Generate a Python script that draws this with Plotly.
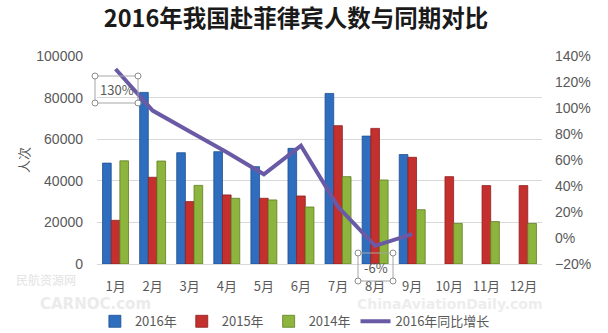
import plotly.graph_objects as go

months = ["1月", "2月", "3月", "4月", "5月", "6月", "7月", "8月", "9月", "10月", "11月", "12月"]
v2016 = [48500, 82500, 53500, 54000, 46800, 55600, 82000, 61500, 52600, None, None, None]
v2015 = [21000, 41700, 30000, 33200, 31600, 32700, 66500, 65200, 51300, 42000, 37700, 37700]
v2014 = [49600, 49500, 37800, 31600, 30800, 27400, 42000, 40400, 26100, 19500, 20400, 19500]
growth = [130, 98, 82, 66, 49, 71, 24, -6, 3]

FONT = "Noto Sans CJK SC"
GRAY = "#595959"

fig = go.Figure()
fig.add_trace(go.Bar(name="2016年", x=months, y=v2016, marker=dict(color="#2F6EBE", line=dict(color="#1F4F8F", width=0.8))))
fig.add_trace(go.Bar(name="2015年", x=months, y=v2015, marker=dict(color="#C3302E", line=dict(color="#8F1F1F", width=0.8))))
fig.add_trace(go.Bar(name="2014年", x=months, y=v2014, marker=dict(color="#8DB43C", line=dict(color="#5F7F25", width=0.8))))
fig.add_trace(go.Scatter(name="2016年同比增长", x=months[:len(growth)], y=growth, yaxis="y2",
                         mode="lines", line=dict(color="#6A5AA6", width=4)))


def px(x):
    return (x - 97) / 445


def py(y):
    return (264 - y) / 208


def box(xc, yc, text, w=43, h=27):
    x0, x1 = xc - w / 2, xc + w / 2
    y0, y1 = yc - h / 2, yc + h / 2
    fig.add_shape(type="rect", xref="paper", yref="paper", x0=px(x0), x1=px(x1), y0=py(y0), y1=py(y1),
                  line=dict(color="#A6A6A6", width=1), fillcolor="rgba(0,0,0,0)")
    for cx in (x0, x1):
        for cy in (y0, y1):
            fig.add_shape(type="circle", xref="paper", yref="paper",
                          x0=px(cx - 3), x1=px(cx + 3), y0=py(cy + 3), y1=py(cy - 3),
                          line=dict(color="#8C8C8C", width=1), fillcolor="white")
    fig.add_annotation(xref="paper", yref="paper", x=px(xc), y=py(yc), text=text, showarrow=False,
                       xanchor="center", yanchor="middle",
                       font=dict(family=FONT, size=13, color=GRAY))


box(116.5, 89.5, "130%")
box(375.5, 267, "-6%", w=35, h=28)

# watermarks
fig.add_annotation(xref="paper", yref="paper", x=px(46), y=py(279), text="民航资源网",
                   xanchor="center", yanchor="middle",
                   showarrow=False, font=dict(family=FONT, size=12, color="#E3E3E3"))
fig.add_annotation(xref="paper", yref="paper", x=px(95), y=py(304), text="<b>CARNOC.com</b>",
                   xanchor="center", yanchor="middle",
                   showarrow=False, font=dict(family="DejaVu Sans", size=15, color="#EBEBEB"))
fig.add_annotation(xref="paper", yref="paper", x=px(450), y=py(304), text="<b>ChinaAviationDaily.com</b>",
                   xanchor="center", yanchor="middle",
                   showarrow=False, font=dict(family="DejaVu Sans", size=14, color="#EDEDED"))

fig.update_layout(
    width=608, height=333,
    margin=dict(l=97, r=66, t=56, b=69),
    paper_bgcolor="white", plot_bgcolor="white",
    title=dict(text="<b>2016年我国赴菲律宾人数与同期对比</b>", x=0.487, xanchor="center", y=0.945, yanchor="middle",
               font=dict(family=FONT, size=23.5, color="#1a1a1a")),
    barmode="group", bargap=0.3, bargroupgap=0,
    font=dict(family=FONT, size=13, color=GRAY),
    xaxis=dict(showgrid=False, showline=True, linecolor="#D9D9D9", ticks="", ticklabelstandoff=10,
               tickfont=dict(family=FONT, size=13, color=GRAY)),
    yaxis=dict(range=[0, 100000], dtick=20000, tickformat="d", showgrid=True, gridcolor="#D9D9D9",
               zeroline=False, ticks="", ticklabelstandoff=13,
               title=dict(text="人次", font=dict(family=FONT, size=13, color=GRAY), standoff=3),
               tickfont=dict(family="Liberation Sans", size=14, color=GRAY)),
    yaxis2=dict(range=[-20, 140], dtick=20, ticksuffix="%", overlaying="y", side="right", showgrid=False,
                zeroline=False, ticks="", ticklabelstandoff=12,
                tickfont=dict(family="Liberation Sans", size=14, color=GRAY)),
    legend=dict(orientation="h", xref="container", yref="container", x=0.485, xanchor="center",
                y=0.035, yanchor="middle", font=dict(family=FONT, size=13, color=GRAY),
                itemwidth=30, tracegroupgap=0, bgcolor="rgba(0,0,0,0)"),
    showlegend=True,
)

fig.write_html("out.html")
